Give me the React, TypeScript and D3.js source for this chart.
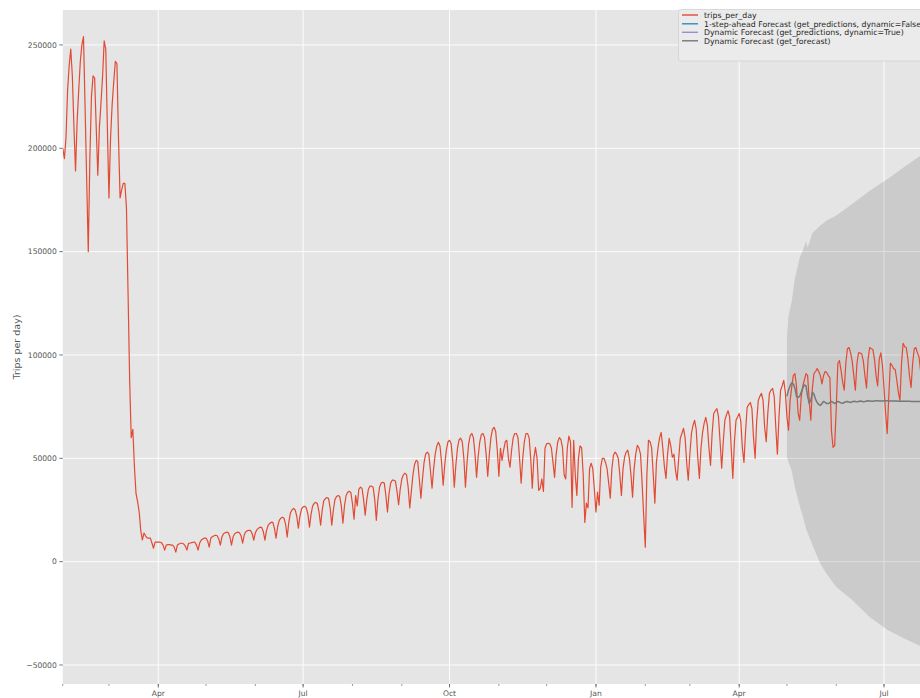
import React from 'react'
import * as d3 from 'd3'

// Daily trips (thousands) starting Sat 1 Feb 2020; each row after the first value is one Sun..Sat week
const tripsWinter2020 = [
  200,
  195, 205, 228, 240, 248, 235, 210,
  189, 213, 228, 242, 250, 254, 220,
  185, 150, 195, 225, 235, 234, 210,
  187, 210, 222, 235, 252, 248, 210,
  176, 205, 221, 232, 242, 241, 205,
  176, 180, 183, 183, 171, 130, 88,
]
const tripsLockdown2020 = [
  60, 64, 46, 33, 29, 24, 15,
  10.5, 13.8, 12.5, 11.5, 11.4, 11.4, 9,
  6.5, 9.4, 9.4, 9.5, 9.4, 9.2, 8,
  5.6, 8, 8.2, 8.3, 8, 8, 7,
  4.6, 8, 8.5, 8.9, 8.9, 8.5, 7.5,
  5.6, 8.9, 9, 9.2, 9.4, 9.4, 8,
  5.6, 9, 10.5, 11, 11.4, 11.4, 10,
]
const tripsSummer2020 = [
  7, 11.4, 12, 12.5, 12.8, 12.5, 11,
  8, 12, 13.5, 14, 14.3, 14, 12,
  8, 12, 13.5, 14, 14.3, 14, 12.5,
  8.9, 13, 14.5, 15, 15.2, 15, 13.5,
  10.4, 14, 15.5, 16.2, 16.7, 16.5, 14.5,
  10.4, 15, 17.5, 18.5, 19.1, 19, 16,
  11.4, 17, 20, 21, 21.5, 21, 18,
  11.9, 19, 23.5, 25, 25.8, 25, 22,
  16.2, 22, 25.5, 26.5, 26.8, 26, 23,
  16.7, 23, 27, 28.2, 28.7, 28, 24,
  17.6, 25, 29.5, 30.5, 31, 30.5, 26,
  17.6, 25, 30, 31.5, 32, 31.5, 27,
  18.6, 27, 32, 33.6, 34, 33.5, 28,
]
const tripsFall2020 = [
  20.5, 32, 27, 35, 36, 35.5, 30,
  22.5, 30, 35, 36.5, 36.5, 36, 30,
  20, 30, 36, 38, 38.4, 38, 32,
  24, 33, 38, 39.4, 39.4, 39, 34,
  27.5, 35, 40, 42, 42.8, 42, 36,
  26, 34, 42, 47, 49, 48.5, 40,
  30.7, 40, 48, 52, 53, 52, 44,
  35.5, 45, 52, 56, 57.8, 56, 48,
  37, 47, 54, 58, 58.7, 57, 49,
  36, 47, 55, 59, 59.7, 58, 50,
  36, 48, 57, 61, 62, 60, 52,
  40.8, 51, 58, 61.5, 62, 60, 52,
  41.3, 52, 60, 64, 65, 63, 54,
]
const tripsWinter2021 = [
  41.3, 54.8, 49, 54, 58, 58.7, 50,
  45.7, 54, 60, 62, 62, 60, 50,
  38, 50, 58, 62, 62, 60, 50,
  35.5, 50, 55.3, 50, 34.5, 35.5, 40,
  34, 55, 57, 57.3, 57, 55, 48,
  40.8, 52, 58, 60, 59, 55, 42,
  40, 55, 60.7, 58, 26.3, 58.7, 42,
  32, 50, 56, 55, 42, 19, 28.3,
  26, 45, 47.6, 45, 35, 24, 33.6,
  27.3, 45.7, 50, 50, 48, 45, 38,
  30.7, 45, 51.5, 53, 52, 50, 42,
  32, 45, 50.5, 53, 53.9, 50, 42,
  31.2, 45, 52, 56.3, 55, 52, 38,
]
const tripsSpring2021 = [
  22, 7, 42, 58.7, 58, 55, 42,
  28.3, 48, 55, 60, 62.5, 55, 46,
  40.3, 52, 59.7, 56, 50.5, 52, 44,
  39.4, 50, 59.7, 62, 64.5, 60, 48,
  39.4, 52, 62, 66, 68.4, 64, 50,
  40.3, 55, 62.5, 67, 69.8, 66, 55,
  46.6, 62, 71.7, 73, 74, 70, 58,
  45.2, 58, 68.4, 71, 73, 70, 55,
  40.3, 58, 68.4, 70, 71.7, 68, 55,
  48, 63, 74.6, 76, 77, 74, 60,
  50, 68, 78, 80, 81.4, 78, 65,
  58, 72, 81.4, 83, 83.8, 80, 65,
  52, 70, 82.9, 85, 87.7, 82, 70,
]
const tripsSummer2021 = [
  63.6, 78, 84.3, 90, 91, 85, 72,
  68.4, 80, 85, 88, 91, 90, 78,
  68.4, 84, 91, 92, 93.4, 92, 90,
  86, 90, 92, 91.5, 90, 89, 63,
  55.3, 56.3, 74.6, 96, 97.3, 92.5, 87,
  83, 96, 103, 103.6, 101, 97, 90,
  83, 96, 101, 101, 100.5, 97, 90,
  84, 98, 103.6, 103, 102.6, 98, 90,
  85, 98, 101, 95, 84, 72, 62,
  80, 96, 95, 93.4, 93, 88, 82,
  78, 96, 105.6, 104, 103.6, 98, 90,
  84.3, 96, 103, 103.6, 101, 99, 92,
]

// get_forecast mean (thousands), daily from 1 May 2021 (day 455)
const forecastStartDay = 455
const forecastMean = [
  80, 83, 85, 86.5, 86, 84, 80, 79.5, 80, 82, 84, 85.5, 85, 80, 76.5, 78, 82, 81, 78.5, 77,
  76, 75.6, 76.5, 77.5, 77, 76.5, 76.5, 77, 77.5, 77, 76.5, 77, 77.5, 77.2, 76.8, 76.6, 77, 77.4, 77.5, 77.2,
  77, 77.3, 77.6, 77.5, 77.3, 77.5, 77.7, 77.6, 77.4, 77.5, 77.7, 77.8, 77.7, 77.6, 77.6, 77.7, 77.8, 77.8, 77.7, 77.7,
  77.7, 77.8, 77.8, 77.8, 77.7, 77.7, 77.7, 77.7, 77.7, 77.7, 77.6, 77.6, 77.6, 77.6, 77.6, 77.6, 77.6, 77.6, 77.5, 77.5,
  77.5, 77.5, 77.5, 77.5, 77.5,
]

// confidence interval edges (thousands), read at day offsets from the forecast start
const ciDayOffset = [0, 1, 3, 5, 8, 10, 12, 13, 16, 21, 25, 31, 41, 52, 63, 73, 84]
const ciLower = [50.5, 48, 44, 36, 27, 22, 16, 14, 8, -1, -6, -12.3, -18.6, -26.8, -33, -37, -41]
const ciUpper = [108.5, 119, 126, 137, 147, 150.5, 155, 152, 159, 162.6, 165, 167.5, 173, 179.5, 185, 190.6, 196.5]

const yTicks = [-50000, 0, 50000, 100000, 150000, 200000, 250000]

const legendLabels = [
  'trips_per_day',
  '1-step-ahead Forecast (get_predictions, dynamic=False)',
  'Dynamic Forecast (get_predictions, dynamic=True)',
  'Dynamic Forecast (get_forecast)',
]
const legendColors = ['#E24A33', '#348ABD', '#988ED5', '#777777']

const W = 920
const H = 698
const plotLeft = 62.8
const plotTop = 10
const plotBottom = 684
const pxPerDay = 1.5915
const font = '"DejaVu Sans", sans-serif'

type Pt = { date: Date; value: number }

const dayDate = (i: number) => new Date(2020, 1, 1 + i)

export default function App() {
  const trips = [
    ...tripsWinter2020,
    ...tripsLockdown2020,
    ...tripsSummer2020,
    ...tripsFall2020,
    ...tripsWinter2021,
    ...tripsSpring2021,
    ...tripsSummer2021,
  ]
  const tripPts: Pt[] = trips.map((v, i) => ({ date: dayDate(i), value: v * 1000 }))
  const forecastPts: Pt[] = forecastMean.map((v, i) => ({ date: dayDate(forecastStartDay + i), value: v * 1000 }))
  const ciPts = ciDayOffset.map((o, i) => ({
    date: dayDate(forecastStartDay + o),
    lo: ciLower[i] * 1000,
    hi: ciUpper[i] * 1000,
  }))

  const x = d3.scaleTime()
    .domain([new Date(2020, 1, 1), new Date(2021, 7, 1)])
    .range([plotLeft, plotLeft + 547 * pxPerDay])
  const y = d3.scaleLinear().domain([-59200, 266900]).range([plotBottom, plotTop])

  const line = d3.line<Pt>().x(d => x(d.date)).y(d => y(d.value))
  const area = d3.area<{ date: Date; lo: number; hi: number }>()
    .x(d => x(d.date))
    .y0(d => y(d.lo))
    .y1(d => y(d.hi))

  const majorTicks = x.ticks(d3.timeMonth.every(3)!)
  const minorTicks = x.ticks(d3.timeMonth.every(1)!)
  const fmtMonth = d3.timeFormat('%b')
  const fmtY = (v: number) => (v < 0 ? '\u2212' + Math.abs(v) : String(v))

  const legendRowY = [15, 23.8, 32.3, 40.8]

  return (
    <svg
      width={W}
      height={H}
      style={{ position: 'absolute', left: 0, top: 0, background: '#fff' }}
      fontFamily={font}
    >
      <defs>
        <clipPath id="plot-clip">
          <rect x={plotLeft} y={plotTop} width={W - plotLeft} height={plotBottom - plotTop} />
        </clipPath>
      </defs>

      {/* axes background */}
      <rect x={plotLeft} y={plotTop} width={W - plotLeft} height={plotBottom - plotTop} fill="#E5E5E5" />

      {/* grid */}
      {yTicks.map(t => (
        <line key={'gy' + t} x1={plotLeft} x2={W} y1={y(t)} y2={y(t)} stroke="#fff" strokeWidth={0.9} />
      ))}
      {majorTicks.map(t => (
        <line key={'gx' + t.getTime()} x1={x(t)} x2={x(t)} y1={plotTop} y2={plotBottom} stroke="#fff" strokeWidth={0.9} />
      ))}

      <g clipPath="url(#plot-clip)">
        <path d={area(ciPts) ?? ''} fill="#000" fillOpacity={0.115} />
        <path d={line(tripPts) ?? ''} fill="none" stroke="#E24A33" strokeWidth={1.2} strokeLinejoin="round" />
        <path d={line(forecastPts) ?? ''} fill="none" stroke="#777777" strokeWidth={1.5} strokeLinejoin="round" />
      </g>

      {/* y axis */}
      {yTicks.map(t => (
        <g key={'yt' + t}>
          <line x1={plotLeft - 3.5} x2={plotLeft} y1={y(t)} y2={y(t)} stroke="#555" strokeWidth={0.8} />
          <text x={plotLeft - 6} y={y(t)} dy="0.35em" textAnchor="end" fontSize={7.6} fill="#555">
            {fmtY(t)}
          </text>
        </g>
      ))}

      {/* x axis */}
      {minorTicks.map(t => (
        <line key={'mt' + t.getTime()} x1={x(t)} x2={x(t)} y1={plotBottom} y2={plotBottom + 2} stroke="#555" strokeWidth={0.6} />
      ))}
      {majorTicks.map(t => (
        <g key={'xt' + t.getTime()}>
          <line x1={x(t)} x2={x(t)} y1={plotBottom} y2={plotBottom + 3.5} stroke="#555" strokeWidth={0.8} />
          <text x={x(t)} y={plotBottom + 12} textAnchor="middle" fontSize={7.6} fill="#555">
            {fmtMonth(t)}
          </text>
        </g>
      ))}

      <text
        transform={`translate(17,${(plotTop + plotBottom) / 2}) rotate(-90)`}
        textAnchor="middle"
        dy="0.35em"
        fontSize={9.5}
        fill="#555"
      >
        Trips per day)
      </text>

      {/* legend (cut off by the right edge, as in the source figure) */}
      <rect x={678.5} y={9.5} width={260} height={51.5} rx={2} fill="#EBEBEB" stroke="#D2D2D2" strokeWidth={0.8} />
      {legendLabels.map((label, i) => (
        <g key={label}>
          <line x1={682} x2={698} y1={legendRowY[i]} y2={legendRowY[i]} stroke={legendColors[i]} strokeWidth={1.4} />
          <text x={704} y={legendRowY[i]} dy="0.35em" fontSize={7.8} fill="#262626">
            {label}
          </text>
        </g>
      ))}
    </svg>
  )
}
